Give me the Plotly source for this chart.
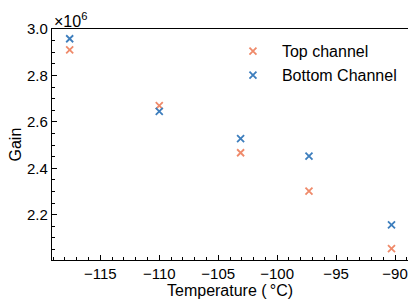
import plotly.graph_objects as go

temperature = [-117.6, -110.0, -103.1, -97.3, -90.3]
gain_top_e6 = [2.91, 2.67, 2.467, 2.302, 2.054]
gain_bottom_e6 = [2.958, 2.645, 2.528, 2.452, 2.156]

top_color = "#ef8a6a"
bottom_color = "#3d7ebd"

fig = go.Figure()
fig.add_trace(go.Scatter(x=temperature, y=gain_top_e6, mode="markers", name="Top channel",
                         marker=dict(symbol="x-thin", size=7, line=dict(width=1.8, color=top_color), color=top_color)))
fig.add_trace(go.Scatter(x=temperature, y=gain_bottom_e6, mode="markers", name="Bottom Channel",
                         marker=dict(symbol="x-thin", size=7, line=dict(width=1.8, color=bottom_color), color=bottom_color)))

axis_common = dict(showline=True, linecolor="black", linewidth=1.2, mirror=True, ticks="inside",
                   ticklen=5, tickwidth=1, tickcolor="black", showgrid=False, zeroline=False,
                   automargin=False, ticklabeloverflow="allow",
                   tickfont=dict(size=15, color="black"))
fig.update_xaxes(range=[-119.1, -88.9], dtick=5, tick0=-115,
                 minor=dict(ticks="inside", dtick=1, ticklen=3, tickcolor="black"),
                 **axis_common)
fig.update_yaxes(range=[2.005, 3.0], dtick=0.2, tick0=2.2, tickformat=".1f",
                 minor=dict(ticks="inside", dtick=0.05, ticklen=3, tickcolor="black"),
                 **axis_common)
fig.add_annotation(x=0, y=1.0, xref="paper", yref="paper", xanchor="left", yanchor="bottom",
                   text="×10<sup>6</sup>", showarrow=False, font=dict(size=16, color="black"), yshift=-3)
fig.add_annotation(x=0.5, y=0, xref="paper", yref="paper", xanchor="center", yanchor="top",
                   text="Temperature (\u2009°C)", showarrow=False, font=dict(size=16, color="black"), yshift=-20)
fig.add_annotation(x=0, y=0.5, xref="paper", yref="paper", xanchor="center", yanchor="middle",
                   text="Gain", textangle=-90, showarrow=False, font=dict(size=16, color="black"), xshift=-37)
# page body has an 8px default margin; size the figure so it fills the 416x306 window
fig.update_layout(width=408, height=298, margin=dict(l=44, r=8, t=21, b=46),
                  plot_bgcolor="white", paper_bgcolor="white",
                  font=dict(family="Liberation Sans, Arial, sans-serif", color="black"),
                  legend=dict(x=0.483, y=0.977, xanchor="left", yanchor="top", bgcolor="rgba(0,0,0,0)",
                              itemwidth=48, font=dict(size=16, color="black")),
                  showlegend=True)
fig.write_html("out.html")
